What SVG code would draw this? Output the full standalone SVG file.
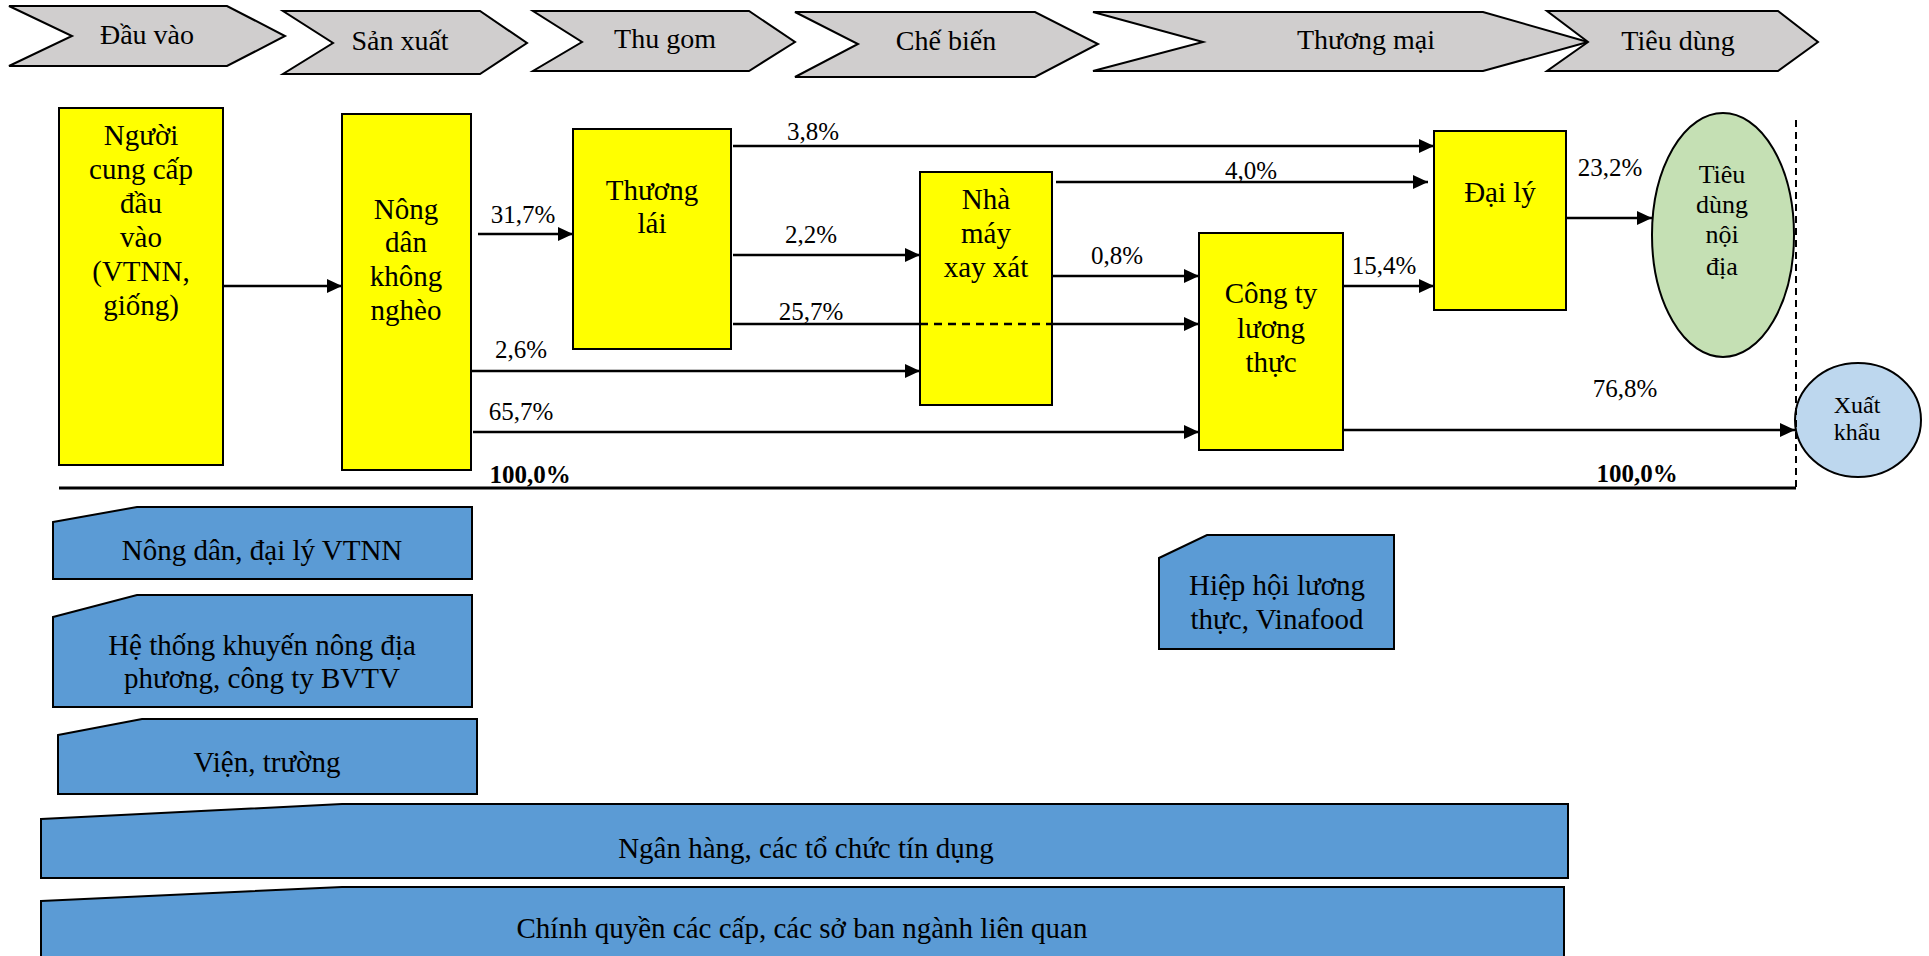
<svg xmlns="http://www.w3.org/2000/svg" width="1929" height="956" viewBox="0 0 1929 956">
  <style>
    text { font-family: "Liberation Serif", "Times New Roman", serif; fill: #000; text-anchor: middle; }
    .stage { fill: #D0CECE; stroke: #000; stroke-width: 2; stroke-linejoin: miter; }
    .stage-t { font-size: 28px; }
    .box { fill: #FFFF00; stroke: #000; stroke-width: 2; }
    .node-t { font-size: 29px; }
    .pct { font-size: 25px; }
    .total { font-size: 25px; font-weight: bold; }
    .actor { fill: #5B9BD5; stroke: #000; stroke-width: 2; }
    .actor-t { font-size: 29px; }
    .flow { stroke: #000; stroke-width: 2.5; fill: none; }
    .flow-a { stroke: #000; stroke-width: 2.5; fill: none; marker-end: url(#arrow); }
  </style>
  <defs>
    <marker id="arrow" markerUnits="userSpaceOnUse" markerWidth="16" markerHeight="14" refX="15" refY="7" orient="auto">
      <path d="M0,0 L15,7 L0,14 Z" fill="#000"/>
    </marker>
  </defs>

  <rect x="0" y="0" width="1929" height="956" fill="#FFFFFF"/>

  <!-- value chain stages -->
  <g id="stages">
    <g id="stage-dau-vao">
      <polygon class="stage" points="9,6 227,6 285,36 227,66 9,66 72,36"/>
      <text class="stage-t" x="147" y="44">Đầu vào</text>
    </g>
    <g id="stage-san-xuat">
      <polygon class="stage" points="283,11 480,11 527,43 480,74 283,74 333,43"/>
      <text class="stage-t" x="400" y="50">Sản xuất</text>
    </g>
    <g id="stage-thu-gom">
      <polygon class="stage" points="533,11 749,11 795,42 749,71 533,71 582,42"/>
      <text class="stage-t" x="665" y="48">Thu gom</text>
    </g>
    <g id="stage-che-bien">
      <polygon class="stage" points="795,12 1035,12 1098,44 1035,77 795,77 858,44"/>
      <text class="stage-t" x="946" y="50">Chế biến</text>
    </g>
    <g id="stage-thuong-mai">
      <polygon class="stage" points="1093,12 1483,12 1588,42 1483,71 1093,71 1203,42"/>
      <text class="stage-t" x="1366" y="49">Thương mại</text>
    </g>
    <g id="stage-tieu-dung">
      <polygon class="stage" points="1547,11 1778,11 1818,42 1778,71 1547,71 1588,42"/>
      <text class="stage-t" x="1678" y="50">Tiêu dùng</text>
    </g>
  </g>

  <!-- chain actors -->
  <g id="node-input-supplier">
    <rect class="box" x="59" y="108" width="164" height="357"/>
    <text class="node-t" x="141" y="145">Người</text>
    <text class="node-t" x="141" y="179">cung cấp</text>
    <text class="node-t" x="141" y="213">đầu</text>
    <text class="node-t" x="141" y="247">vào</text>
    <text class="node-t" x="141" y="281">(VTNN,</text>
    <text class="node-t" x="141" y="315">giống)</text>
  </g>
  <g id="node-farmer">
    <rect class="box" x="342" y="114" width="129" height="356"/>
    <text class="node-t" x="406" y="219">Nông</text>
    <text class="node-t" x="406" y="252">dân</text>
    <text class="node-t" x="406" y="286">không</text>
    <text class="node-t" x="406" y="320">nghèo</text>
  </g>
  <g id="node-trader">
    <rect class="box" x="573" y="129" width="158" height="220"/>
    <text class="node-t" x="652" y="200">Thương</text>
    <text class="node-t" x="652" y="233">lái</text>
  </g>
  <g id="node-mill">
    <rect class="box" x="920" y="172" width="132" height="233"/>
    <text class="node-t" x="986" y="209">Nhà</text>
    <text class="node-t" x="986" y="243">máy</text>
    <text class="node-t" x="986" y="277">xay xát</text>
  </g>
  <g id="node-food-company">
    <rect class="box" x="1199" y="233" width="144" height="217"/>
    <text class="node-t" x="1271" y="303">Công ty</text>
    <text class="node-t" x="1271" y="338">lương</text>
    <text class="node-t" x="1271" y="372">thực</text>
  </g>
  <g id="node-agent">
    <rect class="box" x="1434" y="131" width="132" height="179"/>
    <text class="node-t" x="1500" y="202">Đại lý</text>
  </g>
  <g id="node-domestic">
    <ellipse cx="1723" cy="235" rx="71" ry="122" fill="#C5E0B4" stroke="#000" stroke-width="2"/>
    <text x="1722" y="183" font-size="26">Tiêu</text>
    <text x="1722" y="213" font-size="26">dùng</text>
    <text x="1722" y="243" font-size="26">nội</text>
    <text x="1722" y="275" font-size="26">địa</text>
  </g>
  <g id="node-export">
    <ellipse cx="1858" cy="420" rx="63" ry="57" fill="#BDD7EE" stroke="#000" stroke-width="2"/>
    <text x="1857" y="413" font-size="24">Xuất</text>
    <text x="1857" y="440" font-size="24">khẩu</text>
  </g>

  <!-- product flows -->
  <g id="connectors">
    <line class="flow-a" x1="223" y1="286" x2="342" y2="286"/>
    <line class="flow-a" x1="478" y1="234" x2="573" y2="234"/>
    <line class="flow-a" x1="733" y1="146" x2="1434" y2="146"/>
    <line class="flow-a" x1="733" y1="255" x2="920" y2="255"/>
    <line class="flow" x1="733" y1="324" x2="920" y2="324" stroke-width="2"/>
    <line class="flow" x1="920" y1="324" x2="1052" y2="324" stroke-width="2" stroke-dasharray="8,6"/>
    <line class="flow-a" x1="1052" y1="324" x2="1199" y2="324"/>
    <line class="flow-a" x1="472" y1="371" x2="920" y2="371"/>
    <line class="flow-a" x1="473" y1="432" x2="1199" y2="432"/>
    <line class="flow-a" x1="1056" y1="182" x2="1428" y2="182"/>
    <line class="flow-a" x1="1052" y1="276" x2="1199" y2="276"/>
    <line class="flow-a" x1="1343" y1="286" x2="1434" y2="286"/>
    <line class="flow-a" x1="1566" y1="218" x2="1652" y2="218"/>
    <line class="flow-a" x1="1343" y1="430" x2="1795" y2="430"/>
    <!-- total baseline and domestic/export divider -->
    <line x1="59" y1="488" x2="1796" y2="488" stroke="#000" stroke-width="3"/>
    <line x1="1796" y1="120" x2="1796" y2="490" stroke="#000" stroke-width="2" stroke-dasharray="7,5"/>
  </g>

  <!-- flow shares -->
  <g id="flow-labels">
    <text class="pct" x="523" y="223">31,7%</text>
    <text class="pct" x="813" y="140">3,8%</text>
    <text class="pct" x="811" y="243">2,2%</text>
    <text class="pct" x="811" y="320">25,7%</text>
    <text class="pct" x="521" y="358">2,6%</text>
    <text class="pct" x="521" y="420">65,7%</text>
    <text class="pct" x="1251" y="179">4,0%</text>
    <text class="pct" x="1117" y="264">0,8%</text>
    <text class="pct" x="1384" y="274">15,4%</text>
    <text class="pct" x="1610" y="176">23,2%</text>
    <text class="pct" x="1625" y="397">76,8%</text>
    <text class="total" x="530" y="483">100,0%</text>
    <text class="total" x="1637" y="482">100,0%</text>
  </g>

  <!-- supporting institutions -->
  <g id="support-farmer-dealers">
    <path class="actor" d="M53,522 L137,507 L472,507 L472,579 L53,579 Z"/>
    <text class="actor-t" x="262" y="560">Nông dân, đại lý VTNN</text>
  </g>
  <g id="support-extension">
    <path class="actor" d="M53,617 L137,595 L472,595 L472,707 L53,707 Z"/>
    <text class="actor-t" x="262" y="655">Hệ thống khuyến nông địa</text>
    <text class="actor-t" x="262" y="688">phương, công ty BVTV</text>
  </g>
  <g id="support-research">
    <path class="actor" d="M58,735 L142,719 L477,719 L477,794 L58,794 Z"/>
    <text class="actor-t" x="267" y="772">Viện, trường</text>
  </g>
  <g id="support-association">
    <path class="actor" d="M1159,558 L1207,535 L1394,535 L1394,649 L1159,649 Z"/>
    <text class="actor-t" x="1277" y="595">Hiệp hội lương</text>
    <text class="actor-t" x="1277" y="629">thực, Vinafood</text>
  </g>
  <g id="support-banks">
    <path class="actor" d="M41,819 L342,804 L1568,804 L1568,878 L41,878 Z"/>
    <text class="actor-t" x="806" y="858">Ngân hàng, các tổ chức tín dụng</text>
  </g>
  <g id="support-government">
    <path class="actor" d="M41,901 L342,887 L1564,887 L1564,962 L41,962 Z"/>
    <text class="actor-t" x="802" y="938">Chính quyền các cấp, các sở ban ngành liên quan</text>
  </g>
</svg>
